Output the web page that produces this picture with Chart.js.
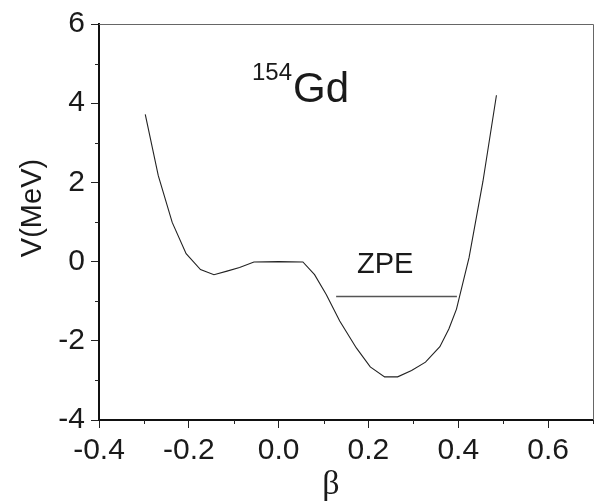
<!DOCTYPE html>
<html>
<head>
<meta charset="utf-8">
<script src="https://cdn.jsdelivr.net/npm/chart.js@4/dist/chart.umd.min.js"></script>
<style>
  html, body { margin: 0; padding: 0; background: #fff; }
  #wrap { width: 598px; height: 502px; position: relative; }
</style>
</head>
<body>
<div id="wrap"><canvas id="chart"></canvas></div>
<script>
// Potential energy curve V(beta) for 154Gd
const BETA = [-0.297, -0.268, -0.237, -0.206, -0.174, -0.144, -0.115, -0.087, -0.055, 0.0,
  0.054, 0.080, 0.106, 0.136, 0.173, 0.204, 0.236, 0.265, 0.296, 0.327,
  0.359, 0.379, 0.396, 0.424, 0.455, 0.485];
const V_MEV = [3.72, 2.17, 0.99, 0.20, -0.20, -0.33, -0.24, -0.15, -0.01, 0.0,
  -0.01, -0.33, -0.83, -1.50, -2.18, -2.66, -2.91, -2.91, -2.75, -2.54,
  -2.15, -1.70, -1.20, 0.10, 2.03, 4.20];

// zero-point energy level
const ZPE_BETA = [0.128, 0.397];
const ZPE_V = [-0.88, -0.88];

const X_MAJOR = [-0.4, -0.2, 0.0, 0.2, 0.4, 0.6];
const Y_MAJOR = [-4, -2, 0, 2, 4, 6];

const SANS = "'Liberation Sans', Arial, sans-serif";
const SERIF = "'Liberation Serif', 'Times New Roman', serif";

const isMajor = (v, list) => list.some((m) => Math.abs(m - v) < 1e-6);

// frame, minor ticks and annotations
const decorations = {
  id: "decorations",
  afterDraw(chart) {
    const { ctx, chartArea: a, scales } = chart;
    const xs = scales.x, ys = scales.y;
    ctx.save();

    // grey box on top and right
    ctx.strokeStyle = "#666";
    ctx.lineWidth = 1;
    ctx.beginPath();
    ctx.moveTo(a.left, a.top + 0.5);
    ctx.lineTo(a.right + 0.5, a.top + 0.5);
    ctx.lineTo(a.right + 0.5, a.bottom + 4);
    ctx.stroke();

    // minor ticks
    ctx.strokeStyle = "#222";
    ctx.lineWidth = 1;
    for (let v = -0.3; v <= 0.71; v += 0.2) {
      const px = Math.round(xs.getPixelForValue(v)) + 0.5;
      ctx.beginPath();
      ctx.moveTo(px, a.bottom);
      ctx.lineTo(px, a.bottom + 4);
      ctx.stroke();
    }
    for (let v = -3; v <= 5; v += 2) {
      const py = Math.round(ys.getPixelForValue(v)) + 0.5;
      ctx.beginPath();
      ctx.moveTo(a.left - 4, py);
      ctx.lineTo(a.left, py);
      ctx.stroke();
    }

    ctx.fillStyle = "#1a1a1a";
    ctx.textBaseline = "alphabetic";
    ctx.textAlign = "left";

    // nucleus label
    ctx.font = "24px " + SANS;
    ctx.fillText("154", 252, 80);
    ctx.font = "42px " + SANS;
    ctx.fillText("Gd", 293, 102);

    ctx.font = "29px " + SANS;
    ctx.fillText("ZPE", 357, 273);

    // axis titles
    ctx.save();
    ctx.translate(41, 208);
    ctx.rotate(-Math.PI / 2);
    ctx.textAlign = "center";
    ctx.font = "29px " + SANS;
    ctx.fillText("V(MeV)", 0, 0);
    ctx.restore();

    ctx.textAlign = "center";
    ctx.font = "34px " + SERIF;
    ctx.fillText("\u03b2", 331, 494);

    ctx.restore();
  },
};

new Chart(document.getElementById("chart"), {
  type: "line",
  data: {
    datasets: [
      {
        data: BETA.map((b, i) => ({ x: b, y: V_MEV[i] })),
        borderColor: "#222",
        borderWidth: 1.1,
        pointRadius: 0,
        tension: 0,
        fill: false,
      },
      {
        data: ZPE_BETA.map((b, i) => ({ x: b, y: ZPE_V[i] })),
        borderColor: "#555",
        borderWidth: 1.4,
        pointRadius: 0,
        fill: false,
      },
    ],
  },
  options: {
    responsive: true,
    maintainAspectRatio: false,
    animation: false,
    layout: { padding: { left: 0, right: 5, top: 22, bottom: 0 } },
    plugins: {
      legend: { display: false },
      tooltip: { enabled: false },
    },
    scales: {
      x: {
        type: "linear",
        min: -0.4,
        max: 0.7,
        afterFit: (s) => { s.height = 82; },
        afterBuildTicks: (s) => { s.ticks = X_MAJOR.map((v) => ({ value: v })); },
        ticks: {
          color: "#1a1a1a",
          font: { family: SANS, size: 30 },
          padding: 5,
          maxRotation: 0,
          callback: (v) => (isMajor(v, X_MAJOR) ? v.toFixed(1) : ""),
        },
        grid: { drawOnChartArea: false, tickLength: 8, tickColor: "#222", tickWidth: 1 },
        border: { display: true, color: "#111", width: 2 },
      },
      y: {
        type: "linear",
        min: -4,
        max: 6,
        afterFit: (s) => { s.width = 99; },
        afterBuildTicks: (s) => { s.ticks = Y_MAJOR.map((v) => ({ value: v })); },
        ticks: {
          color: "#1a1a1a",
          font: { family: SANS, size: 30 },
          padding: 6,
          callback: (v) => String(v),
        },
        grid: { drawOnChartArea: false, tickLength: 8, tickColor: "#222", tickWidth: 1 },
        border: { display: true, color: "#111", width: 2 },
      },
    },
  },
  plugins: [decorations],
});
</script>
</body>
</html>
